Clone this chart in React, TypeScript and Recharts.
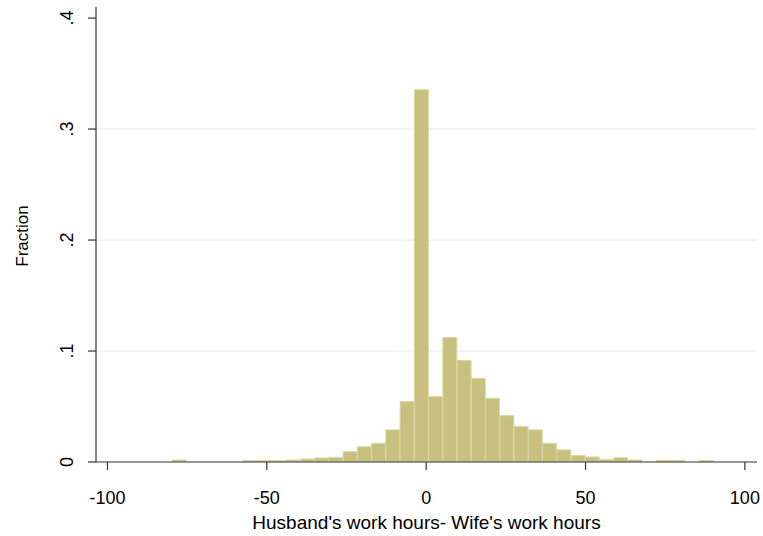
import React from 'react';
import { ComposedChart, Bar, XAxis, YAxis, CartesianGrid } from 'recharts';

// Histogram bins (bin centers, in hours) and their fractions
const binCenters = [
  -77.47, -73.0, -68.53, -64.06, -59.59, -55.12, -50.65, -46.18, -41.71, -37.24,
  -32.77, -28.3, -23.83, -19.36, -14.89, -10.42, -5.95, -1.48, 2.99, 7.46,
  11.93, 16.4, 20.87, 25.34, 29.81, 34.28, 38.75, 43.22, 47.69, 52.16,
  56.63, 61.1, 65.57, 70.04, 74.51, 78.98, 83.45, 87.92,
];
const fractions = [
  0.0018, 0, 0, 0, 0, 0.0012, 0.0012, 0.0012, 0.0018, 0.0027,
  0.0036, 0.0042, 0.0093, 0.0138, 0.0168, 0.0289, 0.0544, 0.3354, 0.0589, 0.1121,
  0.0914, 0.0754, 0.0574, 0.0418, 0.0319, 0.0289, 0.0168, 0.011, 0.0058, 0.0045,
  0.0024, 0.0039, 0.0018, 0, 0.0015, 0.0015, 0, 0.0015,
];
const xTicks = [-100, -50, 0, 50, 100];
const yTicks = [0, 0.1, 0.2, 0.3, 0.4];
const yTickLabels = ['0', '.1', '.2', '.3', '.4'];
const gridValues = [0.1, 0.2, 0.3];

const data = binCenters.map((x, i) => ({ x, f: fractions[i] }));

const FONT = '"Liberation Sans", Arial, Helvetica, sans-serif';

const XTick = (props: any) => {
  const { x, y, payload } = props;
  return (
    <text x={x} y={y} dy="0.71em" textAnchor="middle" fontSize={18} fontFamily={FONT} fill="#000">
      {payload.value}
    </text>
  );
};

const YTick = (props: any) => {
  const { x, y, payload } = props;
  const idx = yTicks.findIndex((t) => Math.abs(t - payload.value) < 1e-9);
  const label = idx >= 0 ? yTickLabels[idx] : String(payload.value);
  return (
    <text x={x} y={y} transform={`rotate(-90 ${x} ${y})`} textAnchor="middle" fontSize={18} fontFamily={FONT} fill="#000">
      {label}
    </text>
  );
};

export default function App() {
  return (
    <div style={{ position: 'absolute', left: 0, top: 0, width: 763, height: 536, background: '#fff' }}>
      <ComposedChart
        width={763}
        height={536}
        data={data}
        margin={{ top: 7, right: 6, bottom: 0, left: 0 }}
        barCategoryGap={0}
        barGap={0}
      >
        <CartesianGrid vertical={false} horizontalValues={gridValues} stroke="#E6EEF1" strokeWidth={1.2} />
        <XAxis
          type="number"
          dataKey="x"
          domain={[-103.6, 103.8]}
          ticks={xTicks}
          allowDataOverflow
          height={74}
          tickSize={8}
          tickMargin={21}
          tick={<XTick />}
          axisLine={{ stroke: '#333', strokeWidth: 1.2 }}
          tickLine={{ stroke: '#333', strokeWidth: 1.2 }}
          label={{
            content: (p: any) => {
              const vb = p.viewBox || {};
              return (
                <text x={(vb.x || 0) + (vb.width || 0) / 2} y={529} textAnchor="middle" fontSize={19} fontFamily={FONT} fill="#000">
                  Husband's work hours- Wife's work hours
                </text>
              );
            },
          }}
        />
        <YAxis
          type="number"
          domain={[0, 0.41]}
          ticks={yTicks}
          allowDataOverflow
          width={96}
          tickSize={8}
          tickMargin={15}
          tick={<YTick />}
          axisLine={{ stroke: '#333', strokeWidth: 1.2 }}
          tickLine={{ stroke: '#333', strokeWidth: 1.2 }}
          label={{
            content: () => (
              <text x={28} y={236} transform="rotate(-90 28 236)" textAnchor="middle" fontSize={17} fontFamily={FONT} fill="#000">
                Fraction
              </text>
            ),
          }}
        />
        <Bar dataKey="f" fill="#C8C07E" stroke="#DCD6A2" strokeWidth={1} isAnimationActive={false} />
      </ComposedChart>
    </div>
  );
}
